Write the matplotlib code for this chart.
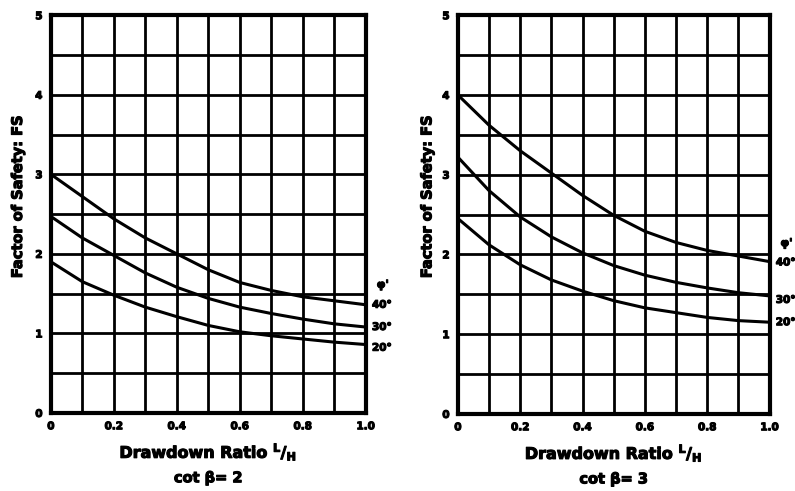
import matplotlib.pyplot as plt
import matplotlib.patheffects as pe
import numpy as np

# drawdown ratio L/H
ratio = [0.0, 0.1, 0.2, 0.3, 0.4, 0.5, 0.6, 0.7, 0.8, 0.9, 1.0]

# factor of safety, cot beta = 2
fs_cot2 = {
    "40°": [3.0, 2.72, 2.44, 2.2, 2.0, 1.8, 1.64, 1.54, 1.46, 1.41, 1.36],
    "30°": [2.47, 2.2, 1.98, 1.76, 1.58, 1.44, 1.33, 1.25, 1.18, 1.12, 1.08],
    "20°": [1.9, 1.65, 1.48, 1.33, 1.21, 1.1, 1.02, 0.97, 0.93, 0.89, 0.86],
}
# factor of safety, cot beta = 3
fs_cot3 = {
    "40°": [4.0, 3.62, 3.3, 3.02, 2.74, 2.49, 2.29, 2.15, 2.05, 1.98, 1.91],
    "30°": [3.22, 2.8, 2.47, 2.22, 2.02, 1.86, 1.74, 1.65, 1.58, 1.52, 1.48],
    "20°": [2.45, 2.12, 1.87, 1.68, 1.54, 1.42, 1.33, 1.27, 1.21, 1.17, 1.15],
}

x_ticks = [0, 0.2, 0.4, 0.6, 0.8, 1.0]
x_tick_labels = ["0", "0.2", "0.4", "0.6", "0.8", "1.0"]
y_ticks = [0, 1, 2, 3, 4, 5]

# label positions (y in data units) to the right of each panel
label_y_cot2 = {"phi": 1.61, "40°": 1.36, "30°": 1.08, "20°": 0.82}
label_y_cot3 = {"phi": 2.14, "40°": 1.9, "30°": 1.43, "20°": 1.15}

plt.rcParams["font.family"] = ["DejaVu Sans"]
plt.rcParams["font.weight"] = "bold"

heavy = [pe.withStroke(linewidth=0.8, foreground="black")]

fig = plt.figure(figsize=(7.95, 4.91), dpi=100)
ax_left = fig.add_axes([0.064, 0.159, 0.396, 0.81])
ax_right = fig.add_axes([0.576, 0.157, 0.392, 0.812])


def draw_panel(ax, curves, label_y, cot_text, ylabel_x):
    ax.set_xlim(0, 1.0)
    ax.set_ylim(0, 5)
    for v in np.arange(0.1, 1.0, 0.1):
        ax.axvline(v, color="black", lw=2.0, zorder=1)
    for v in np.arange(0.5, 5.0, 0.5):
        ax.axhline(v, color="black", lw=2.0, zorder=1)
    for name, vals in curves.items():
        ax.plot(ratio, vals, color="black", lw=2.2, zorder=2)
    for s in ax.spines.values():
        s.set_linewidth(3)
    ax.set_xticks(x_ticks)
    ax.set_xticklabels(x_tick_labels)
    ax.set_yticks(y_ticks)
    ax.tick_params(length=0, labelsize=7.5, pad=6)
    for t in ax.get_xticklabels() + ax.get_yticklabels():
        t.set_path_effects(heavy)
    fig.text(ylabel_x, 0.60, "Factor of Safety: FS", rotation=90, ha="center", va="center",
             fontsize=10.5, fontweight="heavy", path_effects=heavy)
    ax.text(0.5, -0.098, r"Drawdown Ratio $^{\mathbf{L}}/_{\mathbf{H}}$", transform=ax.transAxes,
            ha="center", va="center", fontsize=11.5, fontweight="heavy", path_effects=heavy)
    ax.text(0.5, -0.163, cot_text, transform=ax.transAxes,
            ha="center", va="center", fontsize=10.5, fontweight="heavy", path_effects=heavy)
    ax.text(1.035, label_y["phi"], "φ'", ha="left", va="center", fontsize=8,
            fontweight="heavy", clip_on=False, path_effects=heavy)
    for name in ["40°", "30°", "20°"]:
        ax.text(1.02, label_y[name], name, ha="left", va="center", fontsize=7.5,
                fontweight="heavy", clip_on=False, path_effects=heavy)


draw_panel(ax_left, fs_cot2, label_y_cot2, "cot β= 2", 0.022)
draw_panel(ax_right, fs_cot3, label_y_cot3, "cot β= 3", 0.537)

fig.savefig("out.png", dpi=100)
